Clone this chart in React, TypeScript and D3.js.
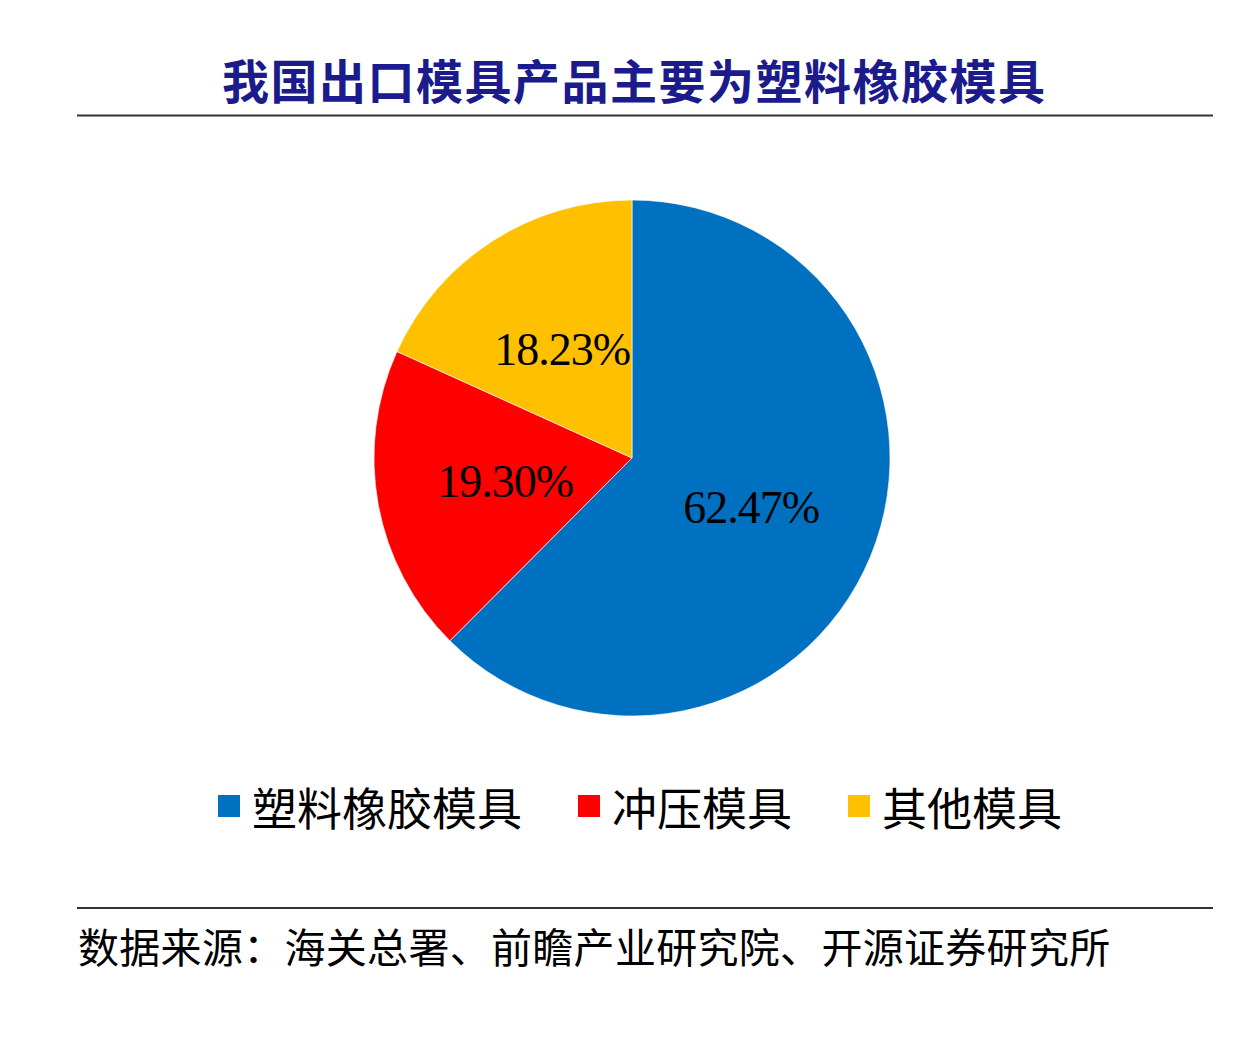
import * as d3 from "d3";

const TITLE = "我国出口模具产品主要为塑料橡胶模具";
const SOURCE = "数据来源：海关总署、前瞻产业研究院、开源证券研究所";
const categories = ["塑料橡胶模具", "冲压模具", "其他模具"];
const shares = [62.47, 19.3, 18.23];
const PALETTE = ["#0070C0", "#FF0000", "#FFC000"];

const W = 1260;
const H = 1050;
const CX = 632;
const CY = 458;
const R = 258;
const CJK = "'Noto Sans CJK SC', 'Noto Sans', sans-serif";
const NUM = "'Liberation Serif', 'Times New Roman', serif";

// legend metrics
const LEG_FS = 45;
const SW = 22;
const LEG_GAP = 56;
const LEG_Y = 806;

export default function App() {
  const pie = d3
    .pie<number>()
    .sort(null)
    .value((d) => d)
    .startAngle(0)
    .endAngle(2 * Math.PI);
  const arcs = pie(shares);
  const arc = d3.arc<d3.PieArcDatum<number>>().innerRadius(0).outerRadius(R);

  // legend x positions, item after item
  let lx = 218;
  const legend = categories.map((c, i) => {
    const x = lx;
    lx += SW + 12 + c.length * LEG_FS + LEG_GAP;
    return { c, x, color: PALETTE[i] };
  });

  return (
    <svg width={W} height={H} style={{ position: "absolute", left: 0, top: 0, background: "#fff" }}>
      {/* title */}
      <text x={222} y={78} dominantBaseline="central" fontFamily={CJK} fontSize={47} fontWeight={700} fill="#1b1b8c" letterSpacing={1.5}>
        {TITLE}
      </text>
      <line x1={77} x2={1213} y1={115.5} y2={115.5} stroke="#333" strokeWidth={2} />

      {/* pie */}
      <g transform={`translate(${CX},${CY})`}>
        {arcs.map((a, i) => (
          <path key={i} d={arc(a) ?? ""} fill={PALETTE[i]} stroke="#fff" strokeWidth={0.6} />
        ))}
        {arcs.map((a, i) => {
          const [x, y] = arc.centroid(a);
          return (
            <text key={i} x={x} y={y} dy="0.34em" textAnchor="middle" fontFamily={NUM} fontSize={46} fill="#000" letterSpacing={-1}>
              {shares[i].toFixed(2)}%
            </text>
          );
        })}
      </g>

      {/* legend */}
      {legend.map((l, i) => (
        <g key={i}>
          <rect x={l.x} y={LEG_Y - SW / 2} width={SW} height={SW} fill={l.color} />
          <text x={l.x + SW + 12} y={LEG_Y} dominantBaseline="central" fontFamily={CJK} fontSize={LEG_FS} fill="#000">
            {l.c}
          </text>
        </g>
      ))}

      {/* source */}
      <line x1={77} x2={1213} y1={908} y2={908} stroke="#333" strokeWidth={2} />
      <text x={78} y={945} dominantBaseline="central" fontFamily={CJK} fontSize={41} fill="#000" letterSpacing={0.3}>
        {SOURCE}
      </text>
    </svg>
  );
}
